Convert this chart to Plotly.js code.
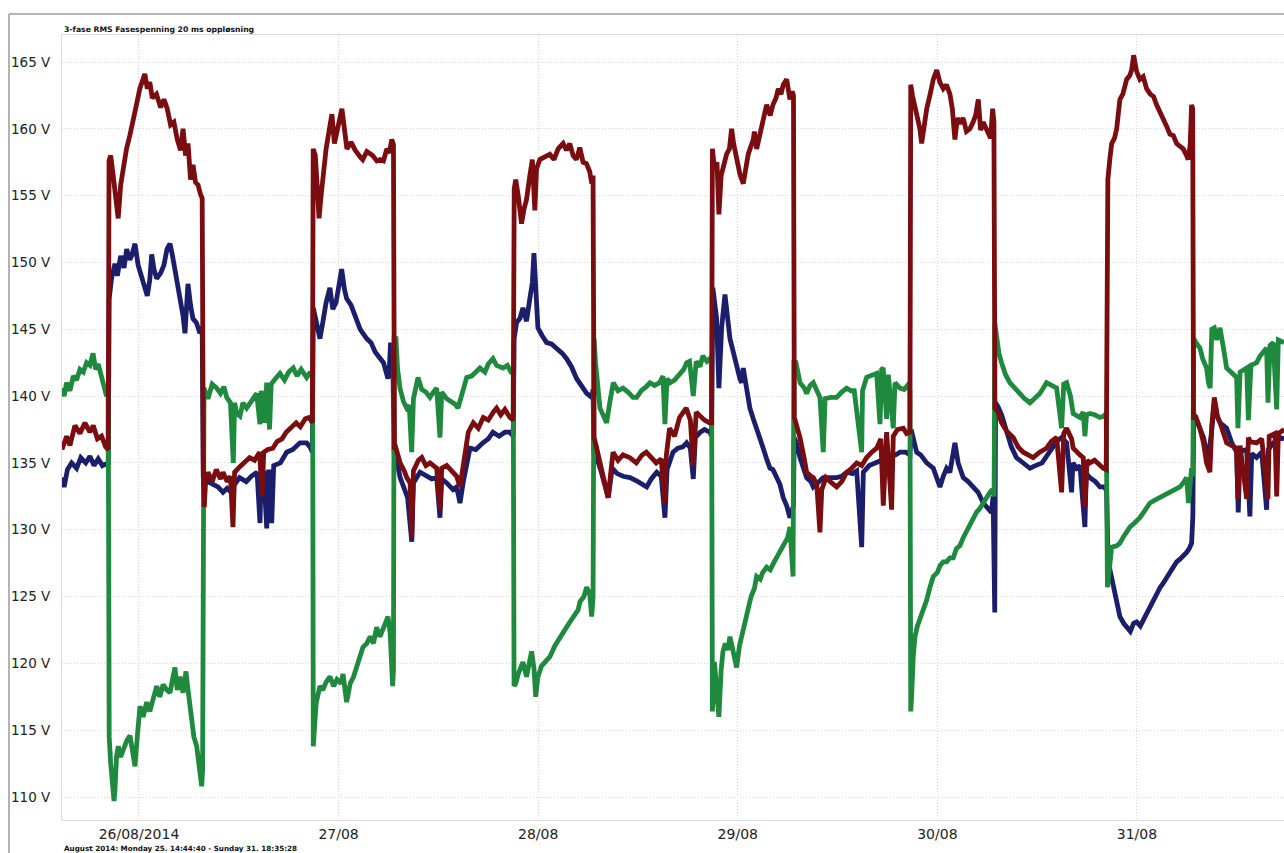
<!DOCTYPE html>
<html>
<head>
<meta charset="utf-8">
<script src="https://cdn.plot.ly/plotly-3.0.1.min.js"></script>
<style>
  html, body { margin: 0; padding: 0; background: #fff; overflow: hidden; }
  #chart { width: 1284px; height: 853px; }
</style>
</head>
<body>
<div id="chart"></div>
<script>
// Time in hours since 2014-08-25 00:00, value in volts
const chartTitle = "3-fase RMS Fasespenning 20 ms oppløsning";
const footerText = "August 2014: Monday 25. 14:44:40 - Sunday 31. 18:35:28";
const tickDates = ["2014-08-26", "2014-08-27", "2014-08-28", "2014-08-29", "2014-08-30", "2014-08-31"];
const tickLabels = ["26/08/2014", "27/08", "28/08", "29/08", "30/08", "31/08"];
const yTicks = [110, 115, 120, 125, 130, 135, 140, 145, 150, 155, 160, 165];
const rangeStartHours = 14.7444;
const rangeEndHours = 161.68;

const redSeries = [
 [14.74,136.0],[15.3,137.0],[15.7,136.3],[16.3,137.8],[16.9,137.2],[17.5,138.0],[18.1,137.3],[18.5,137.8],[19.0,136.8],[19.5,137.0],[20.0,136.2],[20.3,136.0],
 [20.40,157.6],[20.6,158.0],[20.9,156.5],[21.2,154.5],[21.5,153.3],[21.8,155.8],[22.2,157.5],[22.5,158.5],[22.9,159.5],[23.3,160.5],[23.7,161.8],[24.1,163.0],[24.5,163.7],[24.7,164.1],[25.0,163.0],[25.3,163.5],[25.6,162.3],[26.1,162.6],[26.6,161.6],[27.0,162.2],[27.4,161.5],[27.8,160.3],[28.2,160.5],[28.6,159.2],[29.0,158.4],[29.3,160.0],[29.6,158.0],[29.9,158.9],[30.2,156.2],[30.5,157.3],[30.8,156.0],[31.1,155.8],[31.4,155.1],[31.6,154.8],
 [31.75,133.5],[31.85,131.7],[32.0,133.5],[32.3,134.3],[32.8,133.6],[33.3,134.5],[33.8,133.8],[34.1,134.3],[34.6,133.6],[35.0,134.0],[35.3,130.2],[35.5,134.3],[36.1,134.7],[36.6,135.0],[37.3,135.4],[37.9,135.2],[38.5,135.8],[38.8,132.5],[39.0,135.8],[39.5,136.0],[40.1,136.1],[40.6,136.6],[41.2,136.8],[41.7,137.3],[42.3,137.6],[42.9,138.0],[43.4,137.7],[44.0,138.3],[44.5,138.4],[44.85,138.0],
 [44.95,158.5],[45.2,158.0],[45.45,155.5],[45.65,153.3],[45.9,155.0],[46.1,156.2],[46.5,158.5],[46.9,160.0],[47.2,161.1],[47.5,158.9],[47.9,160.2],[48.4,161.5],[48.7,160.0],[49.0,158.5],[49.5,159.0],[50.0,158.4],[50.6,157.9],[50.9,157.7],[51.4,158.3],[52.1,158.0],[52.6,157.6],[53.0,157.7],[53.4,157.6],[53.8,158.5],[54.1,158.2],[54.4,159.2],[54.6,158.8],
 [54.72,136.0],[54.9,136.1],[55.4,135.0],[55.9,134.4],[56.2,133.9],[56.6,133.5],[56.8,129.4],[57.0,134.4],[57.6,135.2],[58.0,135.4],[58.5,134.8],[59.0,135.0],[59.8,134.6],[60.2,131.5],[60.4,134.6],[61.0,134.8],[61.8,134.3],[62.2,134.0],[62.6,133.2],[63.0,135.0],[63.6,137.3],[64.2,138.0],[64.8,137.6],[65.4,138.4],[66.0,138.2],[66.6,138.8],[67.0,139.1],[67.5,138.6],[68.0,139.0],[68.6,138.4],[69.0,138.2],
 [69.12,155.5],[69.3,156.2],[69.6,155.0],[70.0,152.9],[70.3,154.0],[70.6,154.7],[71.0,156.5],[71.3,157.7],[71.6,153.9],[71.8,157.0],[72.2,157.7],[72.7,157.9],[73.4,158.1],[73.9,157.7],[74.4,158.5],[75.0,158.9],[75.4,158.4],[75.8,158.9],[76.2,158.0],[76.6,157.7],[77.0,158.6],[77.4,157.5],[77.8,157.4],[78.2,156.8],[78.45,155.9],[78.6,156.5],
 [78.72,136.9],[79.0,136.2],[79.4,135.0],[79.9,133.9],[80.4,132.4],[81.0,135.8],[81.6,135.2],[82.2,135.6],[83.0,135.4],[83.8,135.0],[84.5,135.6],[85.0,135.8],[85.6,135.4],[86.2,135.0],[86.8,135.3],[87.2,132.0],[87.4,135.5],[87.8,137.6],[88.4,137.0],[89.0,138.4],[89.8,139.1],[90.3,138.2],[90.65,134.8],[91.0,138.8],[91.5,138.5],[92.0,138.2],[92.6,138.0],[92.85,138.0],
 [92.95,158.5],[93.2,157.0],[93.5,157.5],[93.73,153.6],[94.0,156.5],[94.3,157.4],[94.66,158.1],[95.0,158.5],[95.26,160.0],[95.5,158.9],[95.8,158.0],[96.26,156.6],[96.66,155.9],[97.0,157.5],[97.26,158.1],[97.86,159.2],[98.0,159.8],[98.27,158.5],[98.7,159.6],[99.06,160.5],[99.47,161.8],[99.9,161.0],[100.23,161.8],[100.6,162.3],[100.87,163.0],[101.2,162.6],[101.47,163.3],[101.88,163.7],[102.1,163.0],[102.27,162.2],[102.55,162.8],[102.7,162.5],
 [102.8,138.4],[103.0,138.0],[103.48,136.9],[104.0,135.3],[104.28,134.3],[104.8,134.0],[105.08,133.9],[105.5,133.4],[105.88,129.8],[106.1,133.0],[106.6,133.9],[107.3,133.5],[107.89,133.2],[108.5,133.6],[109.09,134.3],[109.7,134.6],[110.3,135.0],[110.9,134.8],[111.5,135.4],[112.1,135.8],[112.7,136.1],[113.2,136.8],[113.5,131.8],[113.9,137.3],[114.5,131.5],[114.7,137.0],[115.2,137.5],[115.9,137.6],[116.3,137.2],[116.7,137.3],
 [116.8,163.3],[117.0,162.5],[117.51,161.1],[117.9,160.0],[118.11,158.9],[118.4,160.5],[118.72,161.5],[119.1,162.5],[119.51,163.7],[119.92,164.4],[120.3,163.5],[120.71,163.0],[121.1,163.3],[121.51,162.6],[121.8,161.5],[122.11,159.2],[122.4,160.8],[122.71,160.4],[123.1,160.8],[123.5,159.8],[123.92,160.0],[124.3,160.5],[124.6,161.0],[124.92,162.2],[125.2,159.9],[125.52,160.5],[126.12,159.6],[126.4,159.3],[126.65,161.5],[126.8,160.5],
 [126.92,139.1],[127.3,138.8],[127.72,138.0],[128.3,137.4],[129.12,136.9],[129.7,136.2],[130.32,135.8],[131.0,135.6],[131.52,135.4],[132.3,135.8],[133.13,136.1],[133.7,136.6],[134.34,136.9],[134.94,132.8],[135.2,137.2],[135.54,137.6],[136.14,136.8],[136.33,136.1],[136.74,135.8],[137.14,135.6],[137.54,135.4],[137.74,131.7],[138.0,135.2],[138.34,135.0],[138.9,135.2],[139.5,134.8],[139.94,134.6],[140.3,134.5],
 [140.5,156.2],[140.75,157.8],[140.96,158.9],[141.3,159.3],[141.56,160.0],[141.95,162.2],[142.3,162.6],[142.76,163.7],[143.15,164.0],[143.36,164.4],[143.6,165.5],[143.96,164.3],[144.35,163.7],[144.75,163.9],[145.16,163.0],[145.6,162.6],[146.0,162.4],[146.36,161.8],[146.76,161.3],[147.16,160.7],[147.56,160.2],[147.96,159.6],[148.37,159.5],[148.77,158.9],[149.17,158.7],[149.56,158.5],[149.97,158.0],[150.16,157.7],[150.4,158.8],[150.57,161.8],[150.7,161.5],
 [150.8,138.4],[151.1,138.4],[151.57,137.6],[152.0,136.5],[152.37,135.0],[152.77,134.3],[153.0,137.8],[153.3,139.9],[153.7,138.4],[154.0,138.0],[154.78,136.5],[155.4,136.3],[155.98,136.1],[156.14,132.3],[156.4,136.3],[157.19,132.3],[157.4,136.9],[157.6,136.6],[158.39,136.5],[159.0,136.8],[159.75,132.3],[159.9,137.0],[160.6,137.2],[160.8,132.5],[161.0,137.2],[161.7,137.5]
];

const blueSeries = [
 [14.74,133.9],[15.0,133.2],[15.4,134.5],[15.9,135.0],[16.5,134.6],[17.0,135.4],[17.6,135.0],[18.1,135.5],[18.6,134.8],[19.1,135.3],[19.6,134.8],[20.1,135.0],[20.3,135.0],
 [20.42,147.3],[20.7,148.8],[21.11,149.9],[21.4,149.0],[21.8,150.5],[22.2,149.6],[22.52,151.0],[22.9,150.2],[23.12,150.5],[23.52,151.4],[23.9,149.8],[24.3,149.0],[24.72,148.1],[25.0,147.5],[25.3,148.7],[25.53,150.6],[25.8,149.5],[26.13,148.8],[26.6,149.2],[27.0,149.8],[27.37,151.0],[27.73,151.4],[28.0,150.6],[28.33,149.5],[28.93,147.3],[29.3,146.0],[29.53,144.7],[29.89,148.4],[30.2,146.8],[30.49,145.8],[30.9,145.5],[31.33,144.7],[31.6,145.2],
 [31.73,133.9],[31.9,133.4],[32.3,133.6],[32.9,133.4],[33.5,133.2],[34.1,132.8],[34.6,133.1],[35.1,132.8],[35.5,133.4],[36.1,133.9],[36.9,133.6],[37.5,134.0],[38.2,134.3],[38.55,130.5],[38.7,134.2],[39.0,134.4],[39.36,130.1],[39.6,134.5],[39.96,130.5],[40.2,134.8],[41.0,135.0],[41.76,135.8],[42.5,136.0],[43.36,136.5],[44.16,136.5],[44.56,136.2],[44.85,135.8],
 [44.96,146.6],[45.3,145.5],[45.76,144.3],[46.1,145.5],[46.5,147.0],[46.96,148.1],[47.3,146.5],[47.7,147.0],[48.1,148.5],[48.37,149.5],[48.7,148.0],[48.97,147.3],[49.5,146.8],[50.17,145.8],[50.6,145.0],[51.38,144.3],[51.9,144.0],[52.4,143.3],[52.98,142.8],[53.4,142.5],[53.94,141.3],[54.1,142.0],[54.25,144.0],[54.4,141.8],[54.55,141.5],
 [54.68,135.8],[54.9,135.5],[55.4,133.9],[55.9,133.0],[56.3,132.4],[56.8,129.1],[57.0,133.5],[57.79,134.3],[58.5,134.0],[59.2,133.8],[59.8,133.9],[60.19,130.9],[60.4,133.8],[61.0,133.5],[61.76,133.0],[62.2,133.2],[62.6,132.0],[63.0,133.6],[63.8,136.1],[64.5,136.0],[65.36,136.5],[66.0,136.8],[66.56,137.3],[67.3,137.0],[68.0,137.3],[68.61,137.3],[69.0,137.0],
 [69.11,144.3],[69.4,145.5],[69.8,145.8],[70.17,146.6],[70.6,145.6],[71.0,147.3],[71.3,148.5],[71.49,150.7],[71.7,147.5],[71.97,145.1],[72.5,144.5],[73.02,144.0],[73.6,143.9],[74.22,143.6],[74.9,143.2],[75.42,142.8],[76.0,142.2],[76.63,141.3],[77.2,140.8],[77.83,140.2],[78.43,139.9],[78.6,140.5],
 [78.7,135.8],[79.0,135.5],[79.6,134.3],[80.2,133.0],[80.43,132.4],[80.9,134.6],[81.5,134.2],[82.2,134.0],[83.04,133.9],[84.0,133.6],[85.05,133.2],[85.6,133.8],[86.25,134.3],[86.8,134.0],[87.24,130.9],[87.5,134.5],[88.21,135.8],[88.8,136.1],[89.4,136.2],[89.85,136.5],[90.3,136.1],[90.65,133.8],[90.9,136.9],[91.5,137.3],[92.0,137.5],[92.65,137.3],[92.85,137.0],
 [93.0,148.1],[93.2,146.8],[93.46,145.8],[93.73,140.6],[93.9,144.0],[94.06,145.1],[94.46,147.6],[94.7,146.0],[95.06,144.3],[95.5,143.2],[95.86,142.1],[96.26,141.3],[96.46,141.0],[96.66,142.1],[97.0,140.8],[97.46,139.1],[97.86,138.3],[98.27,137.6],[98.67,137.0],[99.06,136.1],[99.47,135.3],[99.87,134.6],[100.23,134.5],[100.67,133.9],[101.07,133.4],[101.47,132.4],[101.88,131.8],[102.27,130.9],[102.5,131.3],[102.7,131.8],
 [102.78,136.9],[103.0,136.6],[103.48,135.4],[104.28,133.9],[104.8,133.6],[105.08,133.2],[105.6,133.5],[106.28,133.9],[107.0,133.9],[107.89,133.9],[108.5,134.0],[109.09,134.3],[109.8,134.2],[110.3,134.4],[110.9,128.7],[111.1,134.3],[111.8,134.8],[112.7,135.0],[113.3,135.2],[113.9,135.4],[114.5,135.5],[115.0,135.6],[115.5,135.8],[116.2,135.8],[116.7,135.6],
 [116.85,137.5],[117.2,136.6],[117.51,135.8],[118.0,135.6],[118.72,135.0],[119.51,134.6],[120.31,133.2],[120.71,134.0],[121.11,134.6],[121.51,134.3],[121.91,135.5],[122.11,136.5],[122.5,135.0],[123.11,133.9],[123.7,133.6],[124.32,133.2],[124.9,132.8],[125.52,132.0],[126.1,131.6],[126.5,131.3],[126.7,132.5],[126.9,123.8],
 [127.0,139.5],[127.3,139.2],[127.72,138.6],[128.3,137.3],[128.9,136.2],[129.5,135.4],[130.32,135.0],[131.13,134.6],[131.8,134.8],[132.6,135.0],[133.13,135.5],[133.8,136.1],[134.34,136.6],[134.94,136.9],[135.54,136.5],[136.14,132.8],[136.3,135.0],[136.74,134.6],[137.14,134.8],[137.74,130.2],[137.9,134.2],[138.34,133.9],[139.0,133.6],[139.55,133.2],[140.0,133.2],[140.35,133.0],
 [140.5,128.3],[140.75,127.0],[141.15,125.7],[141.56,124.5],[141.95,123.5],[142.4,123.0],[142.76,122.7],[143.2,122.4],[143.6,123.0],[143.96,123.1],[144.4,122.8],[144.8,123.3],[145.16,123.8],[145.56,124.2],[145.96,124.7],[146.36,125.3],[146.8,125.7],[147.16,126.0],[147.56,126.5],[147.96,126.8],[148.37,127.2],[148.77,127.6],[149.17,127.8],[149.56,128.0],[149.97,128.3],[150.3,128.6],[150.57,129.0],[150.72,131.0],
 [150.82,138.7],[151.1,138.3],[151.57,137.6],[152.0,136.9],[152.37,135.8],[152.6,135.4],[153.0,137.5],[153.3,139.5],[153.6,138.6],[154.0,138.0],[154.78,137.6],[155.4,136.5],[155.98,135.8],[156.18,131.3],[156.4,135.9],[157.19,136.0],[157.58,131.0],[157.8,135.7],[158.39,135.4],[159.0,135.8],[159.59,131.5],[159.8,136.0],[160.4,136.5],[161.2,136.9],[161.7,136.8]
];

const greenSeries = [
 [14.74,140.6],[15.0,140.0],[15.3,141.0],[15.7,140.4],[16.1,141.5],[16.5,141.2],[16.9,142.0],[17.3,141.8],[17.7,142.5],[18.1,142.3],[18.47,143.2],[18.8,142.0],[19.1,142.4],[19.5,141.3],[19.8,140.8],[20.1,140.0],[20.3,140.4],
 [20.42,114.5],[20.6,112.5],[20.8,111.0],[21.0,109.7],[21.11,110.5],[21.3,113.0],[21.51,113.8],[21.8,113.0],[22.1,113.5],[22.52,114.2],[22.92,114.6],[23.2,113.3],[23.52,112.3],[23.8,114.5],[24.12,116.8],[24.5,116.0],[24.93,117.1],[25.3,116.4],[25.7,117.5],[26.13,118.3],[26.5,117.5],[26.9,118.4],[27.37,118.0],[27.73,117.8],[28.1,119.0],[28.33,119.7],[28.6,118.0],[28.93,119.0],[29.3,117.8],[29.65,119.4],[29.9,118.0],[30.34,115.3],[30.6,114.5],[30.94,113.8],[31.2,112.6],[31.54,110.8],[31.65,112.0],
 [31.73,140.6],[31.82,140.6],[32.3,139.8],[32.8,140.9],[33.34,140.6],[33.8,140.2],[34.2,140.7],[34.55,139.9],[35.0,139.5],[35.34,135.0],[35.5,139.5],[35.75,138.7],[36.14,138.5],[36.5,139.5],[36.95,139.1],[37.5,139.6],[38.15,140.2],[38.55,137.9],[38.7,140.4],[39.1,138.0],[39.36,141.0],[39.7,137.5],[39.9,140.9],[40.4,141.3],[40.95,141.7],[41.5,141.2],[42.0,141.8],[42.55,142.1],[43.0,141.5],[43.5,142.0],[44.16,141.4],[44.6,141.8],[44.88,141.4],
 [44.96,113.8],[45.1,115.5],[45.3,117.0],[45.76,118.3],[46.1,118.0],[46.5,118.6],[46.96,119.0],[47.4,118.3],[47.8,118.8],[48.3,118.5],[48.53,119.2],[48.97,117.1],[49.4,118.5],[49.8,119.0],[50.17,119.7],[50.6,120.5],[50.93,121.2],[51.4,121.5],[51.8,122.0],[52.2,121.5],[52.58,122.7],[52.98,122.0],[53.4,122.7],[53.94,123.5],[54.2,122.3],[54.5,118.3],[54.6,119.5],
 [54.68,144.3],[54.9,144.3],[55.1,142.0],[55.38,140.6],[55.8,139.6],[56.19,139.1],[56.5,139.3],[56.79,135.8],[57.0,139.8],[57.55,141.4],[58.0,140.5],[58.5,140.3],[58.99,139.9],[59.4,140.3],[59.8,140.6],[60.19,136.9],[60.4,140.3],[61.0,139.8],[61.5,139.6],[62.0,139.4],[62.36,139.1],[62.8,140.2],[63.41,141.4],[64.0,141.5],[64.5,141.8],[65.0,142.1],[65.6,141.8],[66.0,142.4],[66.56,142.8],[67.0,142.3],[67.77,142.1],[68.3,142.3],[68.81,141.7],[69.0,142.0],
 [69.1,118.3],[69.3,118.5],[69.6,119.2],[70.17,120.1],[70.4,119.5],[70.6,119.0],[71.21,120.9],[71.5,119.6],[71.7,117.5],[71.97,119.0],[72.4,119.8],[73.0,120.2],[73.41,120.5],[74.0,121.3],[74.62,122.0],[75.2,122.5],[75.82,123.1],[76.3,123.5],[76.8,124.0],[77.02,124.6],[77.5,125.0],[77.83,125.7],[78.2,125.2],[78.43,123.5],[78.6,125.0],
 [78.72,144.3],[78.9,142.5],[79.43,139.1],[79.9,138.5],[80.23,138.0],[80.6,139.5],[81.03,141.0],[81.6,140.4],[82.2,140.6],[82.8,140.3],[83.4,139.9],[83.84,139.9],[84.4,140.4],[85.0,140.7],[85.44,141.0],[86.0,140.8],[86.6,141.0],[87.0,141.5],[87.24,137.9],[87.5,141.3],[87.84,141.0],[88.4,141.2],[89.05,141.7],[89.5,142.0],[89.85,142.5],[90.2,142.6],[90.65,140.0],[91.0,142.6],[91.45,142.2],[91.8,143.0],[92.3,142.6],[92.65,142.8],[92.85,142.5],
 [92.95,116.4],[93.05,117.5],[93.2,120.1],[93.46,118.5],[93.73,116.0],[94.0,119.5],[94.22,120.9],[94.5,121.5],[94.8,121.0],[95.06,122.0],[95.4,121.0],[95.86,119.7],[96.2,121.3],[96.46,122.0],[96.8,123.0],[97.26,124.2],[97.6,125.0],[98.0,125.6],[98.27,126.5],[98.7,126.3],[99.0,126.8],[99.47,127.2],[99.9,127.0],[100.3,127.5],[100.67,127.9],[101.1,128.3],[101.67,129.0],[102.0,129.4],[102.27,130.2],[102.5,127.8],[102.65,126.5],
 [102.75,142.5],[103.0,142.5],[103.48,141.0],[104.0,140.6],[104.28,140.2],[104.7,140.8],[105.08,141.0],[105.5,140.3],[105.88,139.9],[106.28,135.8],[106.5,139.8],[107.2,139.9],[107.89,139.9],[108.5,140.3],[109.09,140.6],[109.6,140.4],[110.0,140.4],[110.9,135.8],[111.0,140.4],[111.5,141.4],[112.1,141.6],[112.7,141.7],[113.1,137.9],[113.3,142.0],[113.49,142.1],[113.9,138.3],[114.1,141.6],[114.7,137.6],[114.9,141.0],[115.5,140.6],[116.0,140.5],[116.4,140.8],[116.7,140.4],
 [116.8,116.4],[116.9,117.5],[117.1,120.5],[117.31,122.0],[117.6,122.8],[118.0,123.5],[118.31,123.8],[118.7,124.7],[119.11,125.7],[119.51,126.5],[120.0,126.8],[120.31,127.3],[120.71,127.6],[121.11,127.6],[121.51,127.9],[121.91,127.9],[122.3,128.6],[122.71,128.8],[123.11,129.4],[123.5,129.9],[123.92,130.5],[124.32,130.9],[124.7,131.3],[125.12,131.6],[125.52,132.0],[125.9,132.5],[126.32,132.8],[126.6,133.0],[126.82,132.5],
 [126.92,145.4],[127.1,144.5],[127.4,143.2],[127.72,142.5],[128.2,141.6],[128.72,141.0],[129.3,140.6],[129.93,140.2],[130.5,139.8],[131.13,139.5],[131.7,139.8],[132.33,140.2],[133.13,141.0],[133.7,140.8],[134.34,140.6],[134.94,137.6],[135.2,140.9],[135.54,141.0],[136.0,140.0],[136.33,138.7],[136.74,138.5],[137.14,138.4],[137.54,138.8],[137.74,137.0],[137.94,138.6],[138.34,138.7],[138.9,138.6],[139.55,138.4],[140.0,138.5],[140.3,138.7],
 [140.45,125.7],[140.6,126.5],[140.96,128.7],[141.56,128.8],[141.95,129.0],[142.4,129.5],[142.76,129.8],[143.15,130.2],[143.7,130.5],[144.35,130.9],[144.9,131.4],[145.56,132.0],[146.1,132.2],[146.76,132.4],[147.4,132.6],[147.96,132.8],[148.5,133.0],[149.17,133.2],[149.56,133.5],[149.97,133.9],[150.2,132.0],[150.57,134.6],[150.72,134.0],
 [150.82,144.3],[151.1,144.0],[151.57,143.6],[151.9,142.8],[152.37,142.1],[152.6,141.0],[152.8,140.6],[153.0,145.0],[153.3,145.1],[153.6,144.2],[153.98,145.1],[154.4,143.6],[154.78,142.1],[155.3,141.8],[155.98,141.4],[156.14,137.6],[156.4,141.8],[157.19,142.1],[157.4,138.2],[157.7,142.3],[158.39,142.5],[158.8,143.0],[159.59,143.6],[159.75,139.5],[160.0,143.8],[160.39,144.0],[160.8,139.0],[161.0,144.2],[161.68,144.0]
];

const seriesColors = { red: "#7a0d0f", blue: "#1b1f6b", green: "#1f8a3d" };

function hoursToDate(h) {
  const d = new Date(Date.UTC(2014, 7, 25) + h * 3600000);
  return d.toISOString().replace("T", " ").slice(0, 19);
}

function makeTrace(series, color) {
  return {
    type: "scatter",
    mode: "lines",
    x: series.map(p => hoursToDate(p[0])),
    y: series.map(p => p[1]),
    line: { color: color, width: 4.8, shape: "linear" },
    hoverinfo: "skip",
    showlegend: false
  };
}

const traces = [
  makeTrace(blueSeries, seriesColors.blue),
  makeTrace(greenSeries, seriesColors.green),
  makeTrace(redSeries, seriesColors.red)
];

const plotTopPx = 35, plotBottomPx = 820, plotLeftPx = 62, plotWidthPx = 1222;
const plotHeightPx = plotBottomPx - plotTopPx;

const layout = {
  width: 1284,
  height: 853,
  margin: { l: plotLeftPx, r: 0, t: plotTopPx, b: 853 - plotBottomPx, pad: 0 },
  paper_bgcolor: "#ffffff",
  plot_bgcolor: "#ffffff",
  font: { family: "DejaVu Sans, Verdana, sans-serif", color: "#222222", size: 13 },
  xaxis: {
    type: "date",
    range: [hoursToDate(rangeStartHours), hoursToDate(rangeEndHours)],
    tickmode: "array",
    tickvals: tickDates,
    ticktext: tickLabels,
    showgrid: true,
    gridcolor: "#d9d9d9",
    griddash: "1px,2px",
    gridwidth: 1,
    ticks: "outside",
    ticklen: 1,
    tickcolor: "rgba(0,0,0,0)",
    tickfont: { size: 14, color: "#222" },
    showline: true,
    linecolor: "#dcdcdc",
    linewidth: 1,
    mirror: true,
    zeroline: false,
    fixedrange: true
  },
  yaxis: {
    range: [108.28, 167.02],
    tickmode: "array",
    tickvals: yTicks,
    ticktext: yTicks.map(v => v + " V"),
    showgrid: true,
    gridcolor: "#d9d9d9",
    griddash: "1px,2px",
    gridwidth: 1,
    ticks: "outside",
    ticklen: 8,
    tickcolor: "rgba(0,0,0,0)",
    tickfont: { size: 13.5, color: "#222" },
    showline: true,
    linecolor: "#dcdcdc",
    linewidth: 1,
    mirror: true,
    zeroline: false,
    fixedrange: true
  },
  annotations: [
    {
      text: "<b>" + chartTitle + "</b>",
      xref: "paper", yref: "paper",
      x: 0, y: 1,
      xanchor: "left", yanchor: "bottom",
      yshift: -1,
      showarrow: false,
      font: { family: "DejaVu Sans, Verdana, sans-serif", size: 7.7, color: "#111" }
    },
    {
      text: "<b>" + footerText + "</b>",
      xref: "paper", yref: "paper",
      x: 0, y: -(855 - plotBottomPx) / plotHeightPx,
      xanchor: "left", yanchor: "bottom",
      showarrow: false,
      font: { family: "DejaVu Sans, Verdana, sans-serif", size: 7.2, color: "#111" }
    }
  ],
  shapes: [
    {
      type: "line", xref: "paper", yref: "paper", layer: "above",
      x0: (9 - plotLeftPx) / plotWidthPx, x1: 1.01,
      y0: 1 + (plotTopPx - 14) / plotHeightPx, y1: 1 + (plotTopPx - 14) / plotHeightPx,
      line: { color: "#9a9a9a", width: 1.5 }
    },
    {
      type: "line", xref: "paper", yref: "paper", layer: "above",
      x0: (9 - plotLeftPx) / plotWidthPx, x1: (9 - plotLeftPx) / plotWidthPx,
      y0: 1 + (plotTopPx - 14) / plotHeightPx, y1: -0.1,
      line: { color: "#9a9a9a", width: 1.5 }
    }
  ]
};

Plotly.newPlot("chart", traces, layout, { staticPlot: true, displayModeBar: false });
</script>
</body>
</html>
